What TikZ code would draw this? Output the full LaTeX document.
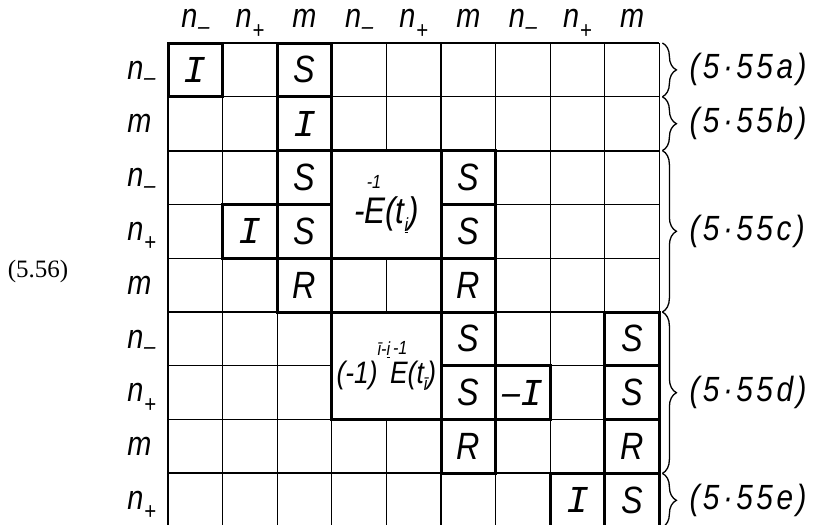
\documentclass[tikz,border=0pt]{standalone}
\usepackage{fontspec}
\setmainfont{Liberation Sans}[FakeStretch=0.85]
\newfontfamily\numfont{Liberation Serif}
\newfontfamily\barfont{Liberation Mono}
\newfontfamily\tagfont{Liberation Sans}[FakeStretch=0.85, LetterSpace=10]
\usetikzlibrary{decorations.pathreplacing}

\newcommand{\nmin}{n\kern0.02em\raisebox{-0.2em}{\fontsize{24}{24}\selectfont–}}
\newcommand{\npls}{n\kern0.02em\raisebox{-0.3em}{\fontsize{24}{24}\selectfont+}}
\newcommand{\II}{{\barfont\itshape I}}
\newcommand{\smallsc}[1]{{\fontsize{19}{19}\selectfont #1}}

\begin{document}
\begin{tikzpicture}[x=1pt, y=-1pt,
    lbl/.style={font=\fontsize{34}{36}\selectfont\itshape, inner sep=0pt},
    cell/.style={font=\fontsize{38}{40}\selectfont\itshape, inner sep=0pt},
    tag/.style={font=\tagfont\fontsize{35}{37}\selectfont\itshape, anchor=west, inner sep=0pt},
    thinline/.style={line width=1.2pt},
    divline/.style={line width=2pt},
    blk/.style={draw, line width=3pt},
    brc/.style={decorate, decoration={brace, amplitude=14pt}, line width=1.3pt}
  ]
  \useasboundingbox (0,0) rectangle (817,525);

  % equation number
  \node[font=\numfont\fontsize{25}{27}\selectfont, inner sep=0pt] (eqno) at (38,271) {(5.56)};

  \begin{scope}[shift={(168,43)}, x=54.6pt, y=-53.8pt]
    % grid
    \foreach \c in {0,...,9}
      \draw[thinline] (\c,0) -- (\c,9.2);
    \foreach \r in {0,1,3,4,6,7}
      \draw[thinline] (0,\r) -- (9,\r);
    \foreach \r in {2,5,8}
      \draw[divline] (0,\r) -- (9,\r);

    % merged blocks
    \fill[white] (3,2) rectangle (5,4);
    \fill[white] (3,5) rectangle (5,7);

    % non-zero blocks
    \foreach \xa/\ya/\xb/\yb in {0/0/1/1, 2/0/3/1, 2/1/3/2, 2/2/3/3, 1/3/2/4, 2/3/3/4, 2/4/3/5,
        3/2/5/4, 5/2/6/3, 5/3/6/4, 5/4/6/5,
        3/5/5/7, 5/5/6/6, 5/6/6/7, 5/7/6/8, 6/6/7/7,
        8/5/9/6, 8/6/9/7, 8/7/9/8, 7/8/8/9, 8/8/9/9}
      \draw[blk] (\xa,\ya) rectangle (\xb,\yb);

    % entries
    \foreach \r/\c/\t in {1/1/\II, 1/3/S, 2/3/\II, 3/3/S, 4/2/\II, 4/3/S, 5/3/R,
        3/6/S, 4/6/S, 5/6/R, 6/6/S, 7/6/S, 8/6/R, 7/7/{–\II},
        6/9/S, 7/9/S, 8/9/R, 9/8/\II, 9/9/S}
      \node[cell] (e\r\c) at (\c-0.5,\r-0.5) {\t};

    \node[cell, font=\fontsize{37}{39}\selectfont\itshape] (einv) at (4,3)
      {-\rlap{\raisebox{0.95em}{\smallsc{\kern0.12em-1}}}E(t\raisebox{-0.2em}{\smallsc{\underline{i}}})};
    \node[cell, font=\fontsize{31}{33}\selectfont\itshape] (esgn) at (4,6)
      {(-1)\raisebox{0.9em}{\smallsc{ī-\underline{i}}}\rlap{\raisebox{0.95em}{\smallsc{\kern0.15em-1}}}E(t\raisebox{-0.2em}{\smallsc{ī}})};

    % row and column labels
    \foreach \t [count=\c] in {\nmin,\npls,m,\nmin,\npls,m,\nmin,\npls,m}
      \node[lbl, anchor=base] (col\c) at (\c-0.5,-0.28) {\t};
    \foreach \t [count=\r] in {\nmin,m,\nmin,\npls,m,\nmin,\npls,m,\npls}
      \node[lbl, anchor=base west] (row\r) at (-0.75,\r-0.33) {\t};

    % braces and equation tags
    \foreach \ya/\yb/\s in {0/1/a, 1/2/b, 2/5/c, 5/8/d, 8/9/e} {
      \draw[brc] ([xshift=3pt]9,\ya) -- ([xshift=3pt]9,\yb);
      \node[tag] (tag\s) at ([xshift=30pt]9,{(\ya+\yb)/2}) {(5·55\s)};
    }
  \end{scope}
\end{tikzpicture}
\end{document}
